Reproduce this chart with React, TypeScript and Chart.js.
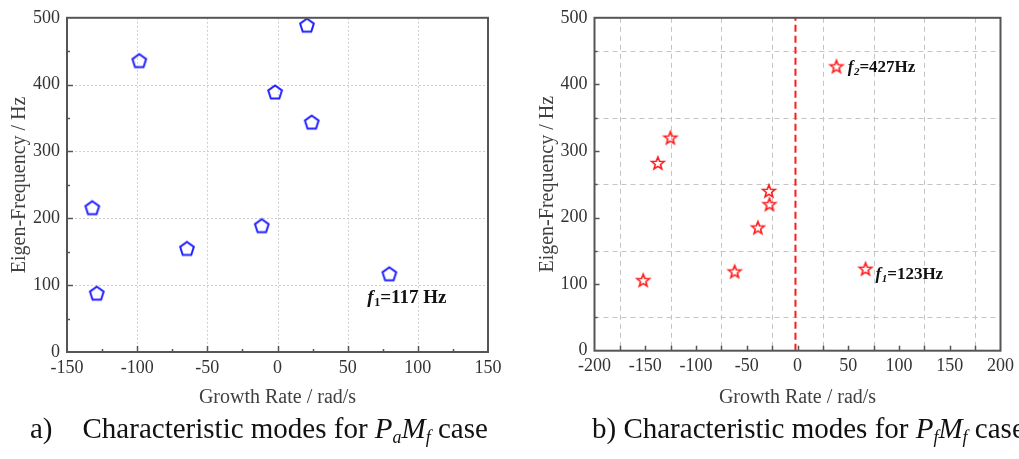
import React, { useEffect, useRef } from "react";
import { Chart, registerables } from "chart.js";

Chart.register(...registerables);

// ---------- data ----------
const leftGrowth = [21, -98.5, -1.7, 24.4, -132, -128.8, -64.5, -11.2, 79.7];
const leftFreq = [489, 436, 389, 344, 216, 88, 155, 189, 117];

const rightGrowth = [38.4, 67, -125.2, -137.6, -152, -61.9, -39, -28.2, -27.6];
const rightFreq = [427, 123, 320, 282, 106, 119, 185, 240, 220];

const stabilityLineX = [-2, -2];
const stabilityLineY = [0, 500];

const leftXRange = [-150, 150];
const rightXRange = [-200, 200];
const freqRange = [0, 500];

const leftNotes = [{ x: 64, y: 74, sub: "1", text: "=117 Hz" }];
const rightNotes = [
  { x: 49.5, y: 418, sub: "2", text: "=427Hz" },
  { x: 76.9, y: 107.5, sub: "1", text: "=123Hz" },
];

const SERIF = '"Liberation Serif", "Times New Roman", "DejaVu Serif", serif';

function makePentagon(): HTMLCanvasElement {
  const c = document.createElement("canvas");
  c.width = 20;
  c.height = 20;
  const g = c.getContext("2d")!;
  const R = 7.2;
  g.beginPath();
  for (let i = 0; i < 5; i++) {
    const a = -Math.PI / 2 + (i * 2 * Math.PI) / 5;
    const px = 10 + R * Math.cos(a);
    const py = 10.7 + R * Math.sin(a);
    if (i) g.lineTo(px, py);
    else g.moveTo(px, py);
  }
  g.closePath();
  g.strokeStyle = "#2020ff";
  g.lineWidth = 2;
  g.stroke();
  return c;
}

function makeStar(): HTMLCanvasElement {
  const c = document.createElement("canvas");
  c.width = 18;
  c.height = 18;
  const g = c.getContext("2d")!;
  const R = 6.6;
  const r = 2.8;
  g.beginPath();
  for (let i = 0; i < 10; i++) {
    const a = -Math.PI / 2 + (i * Math.PI) / 5;
    const rad = i % 2 === 0 ? R : r;
    const px = 9 + rad * Math.cos(a);
    const py = 9.6 + rad * Math.sin(a);
    if (i) g.lineTo(px, py);
    else g.moveTo(px, py);
  }
  g.closePath();
  g.strokeStyle = "#ff1a1a";
  g.lineWidth = 1.6;
  g.stroke();
  return c;
}

type Note = { x: number; y: number; sub: string; text: string };

function framePlugin(cfg: {
  gridX: (v: number) => boolean;
  gridY: (v: number) => boolean;
  gridColor: string;
  gridDash: number[];
  xTickLen: (v: number) => number;
  yTickLen: (v: number) => number;
  notes: Note[];
  noteSize: number;
  subItalic: boolean;
}) {
  return {
    id: "frame",
    beforeDatasetsDraw(chart: any) {
      const { ctx, chartArea: a, scales } = chart;
      const x = scales.x;
      const y = scales.y;
      ctx.save();
      ctx.strokeStyle = cfg.gridColor;
      ctx.lineWidth = 1;
      ctx.setLineDash(cfg.gridDash);
      x.ticks.forEach((t: any) => {
        if (!cfg.gridX(t.value)) return;
        const px = Math.round(x.getPixelForValue(t.value)) + 0.5;
        ctx.beginPath();
        ctx.moveTo(px, a.top);
        ctx.lineTo(px, a.bottom);
        ctx.stroke();
      });
      y.ticks.forEach((t: any) => {
        if (!cfg.gridY(t.value)) return;
        const py = Math.round(y.getPixelForValue(t.value)) + 0.5;
        ctx.beginPath();
        ctx.moveTo(a.left, py);
        ctx.lineTo(a.right, py);
        ctx.stroke();
      });
      ctx.restore();
    },
    afterDraw(chart: any) {
      const { ctx, chartArea: a, scales } = chart;
      const x = scales.x;
      const y = scales.y;
      ctx.save();
      ctx.strokeStyle = "#555";
      ctx.lineWidth = 1.5;
      x.ticks.forEach((t: any) => {
        const len = cfg.xTickLen(t.value);
        if (len <= 0) return;
        const px = Math.round(x.getPixelForValue(t.value)) + 0.5;
        ctx.beginPath();
        ctx.moveTo(px, a.bottom);
        ctx.lineTo(px, a.bottom - len);
        ctx.stroke();
      });
      y.ticks.forEach((t: any) => {
        const len = cfg.yTickLen(t.value);
        if (len <= 0) return;
        const py = Math.round(y.getPixelForValue(t.value)) + 0.5;
        ctx.beginPath();
        ctx.moveTo(a.left, py);
        ctx.lineTo(a.left + len, py);
        ctx.stroke();
      });
      ctx.strokeStyle = "#555";
      ctx.lineWidth = 2;
      ctx.strokeRect(a.left, a.top, a.right - a.left, a.bottom - a.top);

      const fs = cfg.noteSize;
      ctx.fillStyle = "#111";
      ctx.textAlign = "left";
      ctx.textBaseline = "alphabetic";
      cfg.notes.forEach((n) => {
        let px = x.getPixelForValue(n.x);
        const py = y.getPixelForValue(n.y);
        ctx.font = `italic bold ${fs}px ${SERIF}`;
        ctx.fillText("f", px, py);
        px += ctx.measureText("f").width + 0.5;
        ctx.font = `${cfg.subItalic ? "italic " : ""}bold ${Math.round(fs * 0.62)}px ${SERIF}`;
        ctx.fillText(n.sub, px, py + fs * 0.18);
        px += ctx.measureText(n.sub).width;
        ctx.font = `bold ${fs}px ${SERIF}`;
        ctx.fillText(n.text, px, py);
      });
      ctx.restore();
    },
  };
}

function axisScales(opts: {
  xMin: number;
  xMax: number;
  xLabelStep: number;
  H: number;
  plotBottom: number;
  plotLeft: number;
  yTitlePad: number;
}) {
  return {
    x: {
      type: "linear" as const,
      min: opts.xMin,
      max: opts.xMax,
      ticks: {
        stepSize: 25,
        autoSkip: false,
        maxRotation: 0,
        padding: 5,
        color: "#333",
        font: { family: SERIF, size: 18 },
        callback: (v: any) => (Number(v) % opts.xLabelStep === 0 ? String(v) : ""),
      },
      grid: { display: false, drawTicks: false },
      border: { display: false },
      title: {
        display: true,
        text: "Growth Rate / rad/s",
        color: "#404040",
        font: { family: SERIF, size: 20 },
        padding: { top: 0, bottom: 5 },
      },
      afterFit: (s: any) => {
        s.height = opts.H - opts.plotBottom;
      },
    },
    y: {
      type: "linear" as const,
      min: freqRange[0],
      max: freqRange[1],
      ticks: {
        stepSize: 50,
        autoSkip: false,
        padding: 7,
        color: "#333",
        font: { family: SERIF, size: 18 },
        callback: (v: any) => (Number(v) % 100 === 0 ? String(v) : ""),
      },
      grid: { display: false, drawTicks: false },
      border: { display: false },
      title: {
        display: true,
        text: "Eigen-Frequency / Hz",
        color: "#404040",
        font: { family: SERIF, size: 20 },
        padding: { top: opts.yTitlePad, bottom: 0 },
      },
      afterFit: (s: any) => {
        s.width = opts.plotLeft;
      },
    },
  };
}

const H = 415;

function leftConfig(): any {
  const pent = makePentagon();
  return {
    type: "scatter",
    data: {
      datasets: [
        {
          data: leftGrowth.map((g, i) => ({ x: g, y: leftFreq[i] })),
          pointStyle: pent,
          pointRadius: 8,
          showLine: false,
        },
      ],
    },
    options: {
      animation: false,
      responsive: false,
      events: [],
      layout: { padding: { left: 0, top: 12.7, right: 22, bottom: 0 } },
      plugins: { legend: { display: false }, tooltip: { enabled: false } },
      scales: axisScales({
        xMin: leftXRange[0],
        xMax: leftXRange[1],
        xLabelStep: 50,
        H,
        plotBottom: 352,
        plotLeft: 67,
        yTitlePad: 7.5,
      }),
    },
    plugins: [
      framePlugin({
        gridX: (v) => v % 50 === 0 && v > leftXRange[0] && v < leftXRange[1],
        gridY: (v) => v % 100 === 0 && v > 0 && v < 500,
        gridColor: "#cfcfcf",
        gridDash: [2, 2],
        xTickLen: (v) => (v <= leftXRange[0] || v >= leftXRange[1] ? 0 : v % 50 === 0 ? 6 : 3),
        yTickLen: (v) => (v <= 0 || v >= 500 ? 0 : v % 100 === 0 ? 6 : 3),
        notes: leftNotes,
        noteSize: 19,
        subItalic: false,
      }),
    ],
  };
}

function rightConfig(): any {
  const star = makeStar();
  return {
    type: "scatter",
    data: {
      datasets: [
        {
          data: rightGrowth.map((g, i) => ({ x: g, y: rightFreq[i] })),
          pointStyle: star,
          pointRadius: 8,
          showLine: false,
        },
        {
          data: stabilityLineX.map((g, i) => ({ x: g, y: stabilityLineY[i] })),
          showLine: true,
          borderColor: "#ff1a1a",
          borderWidth: 2,
          borderDash: [7, 4],
          pointRadius: 0,
        },
      ],
    },
    options: {
      animation: false,
      responsive: false,
      events: [],
      layout: { padding: { left: 0, top: 12.7, right: 16.3, bottom: 0 } },
      plugins: { legend: { display: false }, tooltip: { enabled: false } },
      scales: axisScales({
        xMin: rightXRange[0],
        xMax: rightXRange[1],
        xLabelStep: 50,
        H,
        plotBottom: 350.7,
        plotLeft: 84.5,
        yTitlePad: 25.5,
      }),
    },
    plugins: [
      framePlugin({
        gridX: (v) => v % 50 !== 0,
        gridY: (v) => v % 100 !== 0,
        gridColor: "#c4c4c4",
        gridDash: [5, 4],
        xTickLen: (v) => (v <= rightXRange[0] || v >= rightXRange[1] ? 0 : 5),
        yTickLen: (v) => (v <= 0 || v >= 500 ? 0 : v % 100 === 0 ? 5 : 3),
        notes: rightNotes,
        noteSize: 17,
        subItalic: true,
      }),
    ],
  };
}

const captionStyle: React.CSSProperties = {
  position: "absolute",
  top: 413.5,
  fontFamily: SERIF,
  fontSize: 29,
  lineHeight: "29px",
  whiteSpace: "pre",
  color: "#111",
};
const subStyle: React.CSSProperties = {
  fontSize: "0.62em",
  verticalAlign: "-0.28em",
  lineHeight: 0,
};

export default function App() {
  const leftRef = useRef<HTMLCanvasElement>(null);
  const rightRef = useRef<HTMLCanvasElement>(null);

  useEffect(() => {
    const c1 = new Chart(leftRef.current!, leftConfig());
    const c2 = new Chart(rightRef.current!, rightConfig());
    return () => {
      c1.destroy();
      c2.destroy();
    };
  }, []);

  return (
    <div
      style={{
        position: "fixed",
        left: 0,
        top: 0,
        width: 1019,
        height: 459,
        overflow: "hidden",
        background: "#fff",
      }}
    >
      <canvas
        ref={leftRef}
        width={510}
        height={H}
        style={{ position: "absolute", left: 0, top: 0, width: 510, height: H }}
      />
      <canvas
        ref={rightRef}
        width={509}
        height={H}
        style={{ position: "absolute", left: 510, top: 0, width: 509, height: H }}
      />
      <div style={{ ...captionStyle, left: 30 }}>
        a)
        <span style={{ marginLeft: 30 }}>
          Characteristic modes for{" "}
          <i>
            P<sub style={subStyle}>a</sub>M<sub style={subStyle}>f</sub>
          </i>{" "}
          case
        </span>
      </div>
      <div style={{ ...captionStyle, left: 592 }}>
        b) Characteristic modes for{" "}
        <i>
          P<sub style={subStyle}>f</sub>M<sub style={subStyle}>f</sub>
        </i>{" "}
        case
      </div>
    </div>
  );
}
